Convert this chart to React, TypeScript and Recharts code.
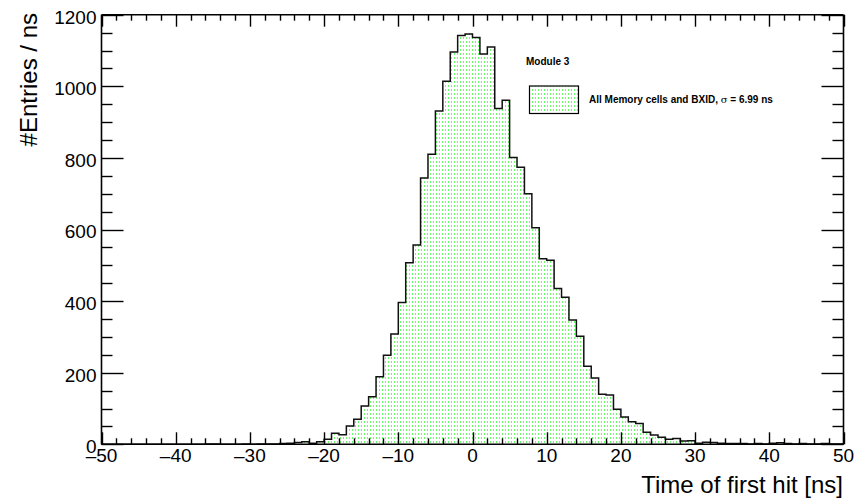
import { ComposedChart, Area, XAxis, YAxis } from 'recharts';

// bin lower edges (1 ns bins) plus the closing edge at 50
const binEdges = [
  -50, -49, -48, -47, -46, -45, -44, -43, -42, -41,
  -40, -39, -38, -37, -36, -35, -34, -33, -32, -31,
  -30, -29, -28, -27, -26, -25, -24, -23, -22, -21,
  -20, -19, -18, -17, -16, -15, -14, -13, -12, -11,
  -10, -9, -8, -7, -6, -5, -4, -3, -2, -1,
  0, 1, 2, 3, 4, 5, 6, 7, 8, 9,
  10, 11, 12, 13, 14, 15, 16, 17, 18, 19,
  20, 21, 22, 23, 24, 25, 26, 27, 28, 29,
  30, 31, 32, 33, 34, 35, 36, 37, 38, 39,
  40, 41, 42, 43, 44, 45, 46, 47, 48, 49, 50,
];

// entries per bin
const counts = [
  0, 0, 0, 0, 0, 0, 0, 0, 0, 0,
  0, 0, 0, 0, 1, 1, 0, 0, 0, 1,
  0, 1, 1, 1, 2, 3, 5, 7, 3, 7,
  14, 31, 27, 51, 70, 107, 133, 189, 249, 308,
  396, 507, 557, 744, 810, 931, 1014, 1096, 1142, 1146,
  1136, 1090, 1110, 938, 961, 801, 774, 700, 605, 518,
  514, 435, 411, 347, 302, 218, 185, 140, 138, 98,
  76, 63, 58, 34, 26, 20, 14, 16, 9, 10,
  3, 6, 5, 3, 2, 2, 2, 1, 2, 1,
  3, 4, 2, 1, 2, 1, 1, 2, 1, 1,
];

const xTicks = [
  -50, -48, -46, -44, -42, -40, -38, -36, -34, -32, -30, -28, -26, -24, -22,
  -20, -18, -16, -14, -12, -10, -8, -6, -4, -2, 0, 2, 4, 6, 8, 10, 12, 14, 16,
  18, 20, 22, 24, 26, 28, 30, 32, 34, 36, 38, 40, 42, 44, 46, 48, 50,
];
const xMajor = [-50, -40, -30, -20, -10, 0, 10, 20, 30, 40, 50];
const yTicks = [
  0, 50, 100, 150, 200, 250, 300, 350, 400, 450, 500, 550, 600, 650, 700, 750,
  800, 850, 900, 950, 1000, 1050, 1100, 1150, 1200,
];
const yMajor = [0, 200, 400, 600, 800, 1000, 1200];

const X_DOMAIN = [-50, 50];
const Y_DOMAIN = [0, 1200];

const W = 859;
const H = 498;
const FONT = '"Liberation Sans", Arial, Helvetica, sans-serif';

// frame of the plot; the chart margins are derived from it (each axis is 1px thick)
const PLOT = { left: 101.5, right: 843.5, top: 14.7, bottom: 444.3 };

const data = binEdges.map((x, i) => ({
  x,
  n: counts[Math.min(i, counts.length - 1)],
}));

const fmt = (v: number) => (v < 0 ? '\u2013' + Math.abs(v) : String(v));

const xPx = (v: number) =>
  PLOT.left + ((v - X_DOMAIN[0]) / (X_DOMAIN[1] - X_DOMAIN[0])) * (PLOT.right - PLOT.left);
const yPx = (v: number) =>
  PLOT.bottom - ((v - Y_DOMAIN[0]) / (Y_DOMAIN[1] - Y_DOMAIN[0])) * (PLOT.bottom - PLOT.top);

const BottomLabel = (props: any) => (
  <text x={props.x} y={props.y + 18} textAnchor="middle" fontSize={19} fontFamily={FONT} fill="#000">
    {fmt(props.payload.value)}
  </text>
);

const LeftLabel = (props: any) => (
  <text x={props.x - 5} y={props.y + 8.8} textAnchor="end" fontSize={19} fontFamily={FONT} fill="#000">
    {props.payload.value}
  </text>
);

const frame = { stroke: '#000', strokeWidth: 1.6 };

// ROOT-style inward ticks on all four sides of the frame, one line each
const InwardTicks = () => (
  <g stroke="#000" strokeWidth={1.4}>
    {xTicks.map((v) => {
      const x = Math.round(xPx(v)) + 0.5;
      const len = xMajor.includes(v) ? 12 : 6;
      return (
        <g key={`x${v}`}>
          <line x1={x} x2={x} y1={PLOT.bottom} y2={PLOT.bottom - len} />
          <line x1={x} x2={x} y1={PLOT.top} y2={PLOT.top + len} />
        </g>
      );
    })}
    {yTicks.map((v) => {
      const y = Math.round(yPx(v)) + 0.5;
      const len = yMajor.includes(v) ? 22 : 11;
      return (
        <g key={`y${v}`}>
          <line x1={PLOT.left} x2={PLOT.left + len} y1={y} y2={y} />
          <line x1={PLOT.right} x2={PLOT.right - len} y1={y} y2={y} />
        </g>
      );
    })}
  </g>
);

const App = () => {
  return (
    <div style={{ position: 'absolute', left: 0, top: 0, width: W, height: H, background: '#fff' }}>
      <div style={{ position: 'absolute', left: 0, top: 0, zIndex: 1 }}>
        <ComposedChart
          width={W}
          height={H}
          data={data}
          margin={{
            top: PLOT.top - 1,
            right: W - PLOT.right - 1,
            bottom: H - PLOT.bottom - 1,
            left: PLOT.left - 1,
          }}
        >
          <XAxis
            xAxisId="b"
            dataKey="x"
            type="number"
            domain={X_DOMAIN}
            ticks={xMajor}
            interval={0}
            height={1}
            tickSize={0}
            tickMargin={0}
            tickLine={false}
            axisLine={frame}
            tick={BottomLabel}
          />
          <XAxis
            xAxisId="t"
            orientation="top"
            type="number"
            domain={X_DOMAIN}
            ticks={xMajor}
            height={1}
            tickLine={false}
            axisLine={frame}
            tick={false}
          />
          <YAxis
            yAxisId="l"
            type="number"
            domain={Y_DOMAIN}
            ticks={yMajor}
            interval={0}
            width={1}
            tickSize={0}
            tickMargin={0}
            tickLine={false}
            axisLine={frame}
            tick={LeftLabel}
          />
          <YAxis
            yAxisId="r"
            orientation="right"
            type="number"
            domain={Y_DOMAIN}
            ticks={yMajor}
            width={1}
            tickLine={false}
            axisLine={frame}
            tick={false}
          />
          <Area
            xAxisId="b"
            yAxisId="l"
            dataKey="n"
            type="stepAfter"
            stroke="#111"
            strokeWidth={1.5}
            fill="url(#dots)"
            fillOpacity={1}
            isAnimationActive={false}
            dot={false}
            activeDot={false}
          />
        </ComposedChart>
      </div>
      <svg
        width={W}
        height={H}
        style={{ position: 'absolute', left: 0, top: 0, zIndex: 2, pointerEvents: 'none' }}
      >
        <defs>
          <pattern id="dots" patternUnits="userSpaceOnUse" width={3} height={4}>
            <rect x={1} y={1} width={1} height={2} fill="#33ff33" opacity={0.75} />
          </pattern>
        </defs>
        <InwardTicks />
        <text
          transform="translate(37,13) rotate(-90)"
          textAnchor="end"
          fontSize={24}
          fontFamily={FONT}
          fill="#000"
        >
          #Entries / ns
        </text>
        <text x={843} y={493} textAnchor="end" fontSize={24} fontFamily={FONT} fill="#000">
          Time of first hit [ns]
        </text>
        <text x={526} y={65} fontSize={10} fontWeight="bold" fontFamily={FONT} fill="#000">
          Module 3
        </text>
        <rect x={529.5} y={86} width={49} height={27.5} fill="url(#dots)" stroke="#000" strokeWidth={1.2} />
        <text x={589} y={103} fontSize={10} fontWeight="bold" fontFamily={FONT} fill="#000">
          All Memory cells and BXID,{' '}
          <tspan fontWeight="normal" fontFamily='"DejaVu Serif", serif'>σ</tspan> = 6.99 ns
        </text>
      </svg>
    </div>
  );
};

export default App;
